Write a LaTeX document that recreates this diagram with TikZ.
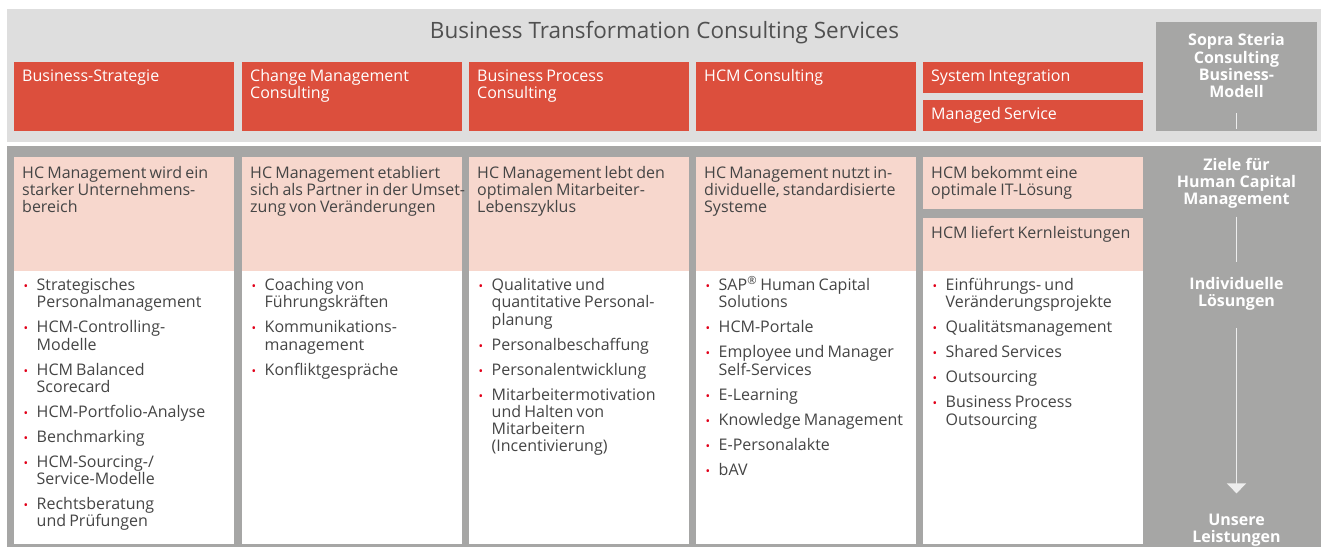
\documentclass[tikz,border=0pt]{standalone}
\usepackage{fontspec}
\setmainfont{Open Sans}
\usepackage{enumitem}
\usetikzlibrary{arrows.meta, positioning}

\definecolor{lightpanel}{HTML}{DEDEDE}
\definecolor{darkpanel}{HTML}{A6A6A5}
\definecolor{hcred}{HTML}{DC4F3D}
\definecolor{hcpink}{HTML}{F7D7CD}
\definecolor{bodygrey}{HTML}{454545}
\definecolor{titlegrey}{HTML}{505050}
\definecolor{dotred}{HTML}{E2001A}
\definecolor{linegrey}{HTML}{EDEDED}

\newcommand{\bodyfont}{\fontsize{16}{17.2}\selectfont\spaceskip=3.2pt plus 1pt\relax}
\newlist{hclist}{itemize}{1}
\setlist[hclist]{label=\textcolor{dotred}{\fontsize{12}{12}\selectfont\textbullet}, leftmargin=14.5pt, labelsep=8.5pt, itemsep=7.8pt, topsep=0pt, parsep=0pt, partopsep=0pt}

\begin{document}
\begin{tikzpicture}[x=1pt, y=-1pt,
		panel/.style={anchor=north west, inner sep=0pt},
		redcell/.style={panel, fill=hcred, minimum width=220pt, minimum height=69pt},
		pinkcell/.style={panel, fill=hcpink, minimum width=220pt, minimum height=114pt},
		whitecell/.style={panel, fill=white, minimum width=220pt, minimum height=273pt},
		celltext/.style={anchor=base west, inner sep=0pt, text width=240pt, align=flush left, font=\bodyfont},
		sidetext/.style={anchor=base, inner sep=0pt, text width=150pt, align=flush center, text=white, font=\fontsize{16}{17.3}\selectfont\bfseries},
		flow/.style={draw=linegrey, line width=1.5pt}]
	\useasboundingbox (0,0) rectangle (1321,547);

	% background panels
	\path (7,9) node[panel, fill=lightpanel, minimum width=1314pt, minimum height=133pt] (top){}
		(7,146) node[panel, fill=darkpanel, minimum width=1314pt, minimum height=401pt] (bottom){}
		(1156,22) node[panel, fill=darkpanel, minimum width=161pt, minimum height=109pt] (sopra){};

	\path (664.5,38.3) node[anchor=base, inner sep=0pt, text=titlegrey, font=\fontsize{22.5}{26}\selectfont] (title) {Business Transformation Consulting Services};

	% consulting services
	\path (14,62) node[redcell] (rc1){}
		(242,62) node[redcell] (rc2){}
		(469,62) node[redcell] (rc3){}
		(696,62) node[redcell] (rc4){}
		(923,62) node[redcell, minimum height=31pt] (rc5){}
		(923,100) node[redcell, minimum height=31pt] (rc6){};
	\path (22,81.7) node[celltext, text=white] (rt1) {Business-Strategie}
		(250,81.7) node[celltext, text=white] (rt2) {Change Management\\Consulting}
		(477,81.7) node[celltext, text=white] (rt3) {Business Process\\Consulting}
		(704,81.7) node[celltext, text=white] (rt4) {HCM Consulting}
		(931,81.7) node[celltext, text=white] (rt5) {System Integration}
		(931,119.7) node[celltext, text=white] (rt6) {Managed Service};

	% goals
	\path (14,157) node[pinkcell] (pc1){}
		(242,157) node[pinkcell] (pc2){}
		(469,157) node[pinkcell] (pc3){}
		(696,157) node[pinkcell] (pc4){}
		(923,157) node[pinkcell, minimum height=52pt] (pc5){}
		(923,218) node[pinkcell, minimum height=53pt] (pc6){};
	\path (22,178.3) node[celltext, text=bodygrey] (pt1) {HC Management wird ein\\starker Unternehmens-\\bereich}
		(250,178.3) node[celltext, text=bodygrey] (pt2) {HC Management etabliert\\sich als Partner in der Umset-\\zung von Veränderungen}
		(477,178.3) node[celltext, text=bodygrey] (pt3) {HC Management lebt den\\optimalen Mitarbeiter-\\Lebenszyklus}
		(704,178.3) node[celltext, text=bodygrey] (pt4) {HC Management nutzt in-\\dividuelle, standardisierte\\Systeme}
		(931,178.3) node[celltext, text=bodygrey] (pt5) {HCM bekommt eine\\optimale IT-Lösung}
		(931,238.3) node[celltext, text=bodygrey] (pt6) {HCM liefert Kernleistungen};

	% services
	\path (14,271) node[whitecell] (wc1){}
		(242,271) node[whitecell] (wc2){}
		(469,271) node[whitecell] (wc3){}
		(696,271) node[whitecell] (wc4){}
		(923,271) node[whitecell] (wc5){};
	\path (22,273.5) node[celltext, text=bodygrey] (wt1) {\begin{hclist}
			\item Strategisches\newline Personalmanagement
			\item HCM-Controlling-\newline Modelle
			\item HCM Balanced\newline Scorecard
			\item HCM-Portfolio-Analyse
			\item Benchmarking
			\item HCM-Sourcing-/\newline Service-Modelle
			\item Rechtsberatung\newline und Prüfungen
		\end{hclist}}
		(250,273.5) node[celltext, text=bodygrey] (wt2) {\begin{hclist}
			\item Coaching von\newline Führungskräften
			\item Kommunikations-\newline management
			\item Konfliktgespräche
		\end{hclist}}
		(477,273.5) node[celltext, text=bodygrey] (wt3) {\begin{hclist}
			\item Qualitative und\newline quantitative Personal-\newline planung
			\item Personalbeschaffung
			\item Personalentwicklung
			\item Mitarbeitermotivation\newline und Halten von\newline Mitarbeitern\newline (Incentivierung)
		\end{hclist}}
		(704,273.5) node[celltext, text=bodygrey] (wt4) {\begin{hclist}
			\item SAP\textsuperscript{®} Human Capital\newline Solutions
			\item HCM-Portale
			\item Employee und Manager\newline Self-Services
			\item E-Learning
			\item Knowledge Management
			\item E-Personalakte
			\item bAV
		\end{hclist}}
		(931,273.5) node[celltext, text=bodygrey] (wt5) {\begin{hclist}
			\item Einführungs- und\newline Veränderungsprojekte
			\item Qualitätsmanagement
			\item Shared Services
			\item Outsourcing
			\item Business Process\newline Outsourcing
		\end{hclist}};

	% business model column
	\path (1236.5,45.7) node[sidetext] (model) {Sopra Steria\\Consulting\\Business-\\Modell}
		(1236.5,170) node[sidetext] (ziele) {Ziele für\\Human Capital\\Management}
		(1236.5,289) node[sidetext] (indiv) {Individuelle\\Lösungen}
		(1236.5,525) node[sidetext] (unsere) {Unsere\\Leistungen};
	\coordinate (tickA) at (1236.5,113);
	\coordinate (tickB) at (1236.5,129);

	\draw[flow] (tickA) -- (tickB);
	\draw[flow, shorten <=8pt, shorten >=15pt] (ziele) -- (indiv);
	\draw[flow, -{Triangle[width=19pt, length=10pt]}, shorten <=18pt, shorten >=20pt] (indiv) -- (unsere);
\end{tikzpicture}
\end{document}
